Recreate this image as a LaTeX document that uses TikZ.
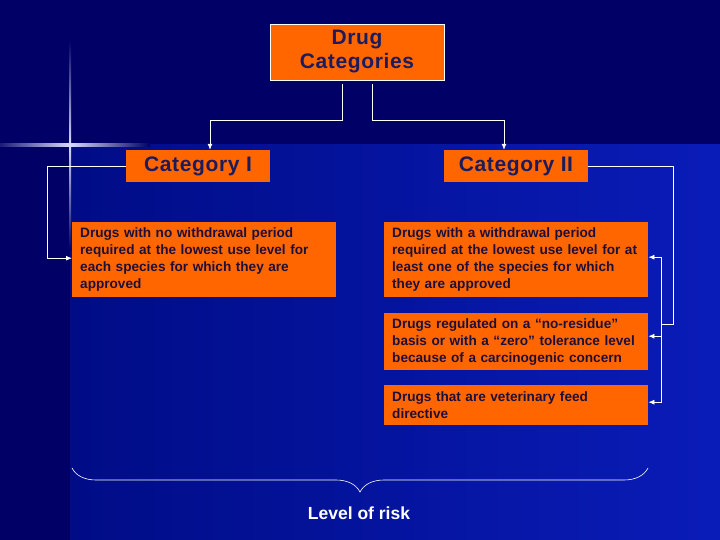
\documentclass[tikz,border=0pt]{standalone}
\usepackage{fontspec}
\setmainfont{Liberation Sans}
\newfontfamily\headfont[LetterSpace=3]{Liberation Sans}
\usepackage{tikz}
\usetikzlibrary{arrows.meta}
\usetikzlibrary{decorations.pathreplacing}
\definecolor{bgtop}{HTML}{000066}
\definecolor{bgleft}{HTML}{000C86}
\definecolor{bgright}{HTML}{0A1CB8}
\definecolor{boxorange}{HTML}{FF6600}
\definecolor{headtext}{HTML}{1C1C5C}
\definecolor{bodytext}{HTML}{1E1038}

\begin{document}
\begin{tikzpicture}[x=1pt,y=-1pt]
\tikzstyle{head}=[rectangle,fill=boxorange,text=headtext,font=\headfont\fontsize{21}{24}\selectfont\bfseries,align=center,inner sep=0pt]
\tikzstyle{info}=[rectangle,fill=boxorange,text=bodytext,font=\fontsize{13.6}{17}\selectfont\bfseries,align=left,inner xsep=8pt,inner ysep=0pt,text width=248pt,anchor=north west]
\tikzstyle{wire}=[white,line width=0.8pt]
\tikzstyle{arr}=[wire,-{Latex[length=6pt,width=5pt]}]
\useasboundingbox (0,0) rectangle (720,540);
\fill[bgtop] (0,0) rectangle (720,540);
\shade[left color=bgleft,right color=bgright] (70,145) rectangle (720,540);
\shade[top color=bgtop,bottom color=bgtop,middle color=white!85!blue] (69,40) rectangle (71.2,250);
\shade[left color=bgtop,right color=bgtop,middle color=white!85!blue] (-10,144) rectangle (150,146.2);

\node[head,draw=white,line width=0.8pt,minimum width=174pt,minimum height=56pt] (top) at (357,52) {Drug\\Categories};
\node[head,minimum width=144pt,minimum height=32pt] (cat1) at (198,166) {Category I};
\node[head,minimum width=144pt,minimum height=32pt] (cat2) at (516,166) {Category II};

\node[info,minimum height=75pt] (l1) at (72,222) {Drugs with no withdrawal period\\required at the lowest use level for\\each species for which they are\\approved};
\node[info,minimum height=75pt] (r1) at (384,222) {Drugs with a withdrawal period\\required at the lowest use level for at\\least one of the species for which\\they are approved};
\node[info,minimum height=57pt] (r2) at (384,313) {Drugs regulated on a “no-residue”\\basis or  with a “zero” tolerance level\\because of a carcinogenic concern};
\node[info,minimum height=40pt] (r3) at (384,385) {Drugs that are veterinary feed\\directive};

\draw[arr,shorten <=4pt] ([xshift=-14.5pt]top.south) -- ++(0,40) -| ([xshift=12pt]cat1.north);
\draw[arr,shorten <=4pt] ([xshift=15pt]top.south) -- ++(0,40) -| ([xshift=-12pt]cat2.north);
\draw[arr] (cat1.west) -- ++(-78,0) |- ([yshift=1.5pt]l1.west);

\coordinate (hub) at (661,324);
\draw[wire] (cat2.east) -- ++(85,0) |- (hub);
\draw[arr] (hub) |- ([yshift=2.5pt]r1.east);
\draw[arr] (hub) |- ([yshift=5.5pt]r2.east);
\draw[arr] (hub) |- ([yshift=3pt]r3.east);

\coordinate (bl) at (72,468);
\coordinate (br) at (648,468);
\draw[wire,line width=0.6pt,decorate,decoration={brace,mirror,amplitude=24pt}] (bl) -- (br);
\node[text=white,font=\fontsize{17.5}{20}\selectfont\bfseries] (risk) at (359,513) {Level of risk};
\end{tikzpicture}
\end{document}
